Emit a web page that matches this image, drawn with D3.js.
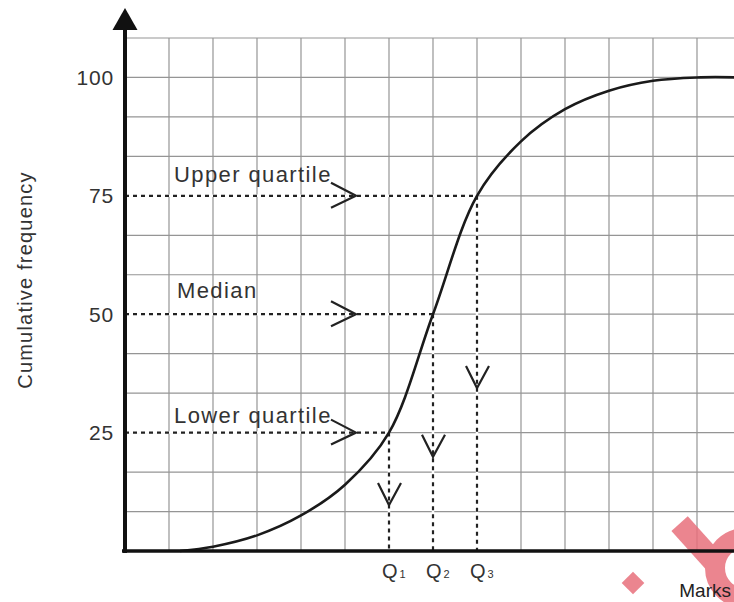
<!DOCTYPE html>
<html>
<head>
<meta charset="utf-8">
<script src="https://cdn.jsdelivr.net/npm/d3@7"></script>
<style>
  body { margin: 0; background: #fff; }
  svg { display: block; font-family: Arial, "Liberation Sans", sans-serif; }
</style>
</head>
<body>
<div id="chart"></div>
<script>
// ogive (cumulative frequency curve), x in grid squares, y in cumulative frequency
var marks = [1.25, 2, 3, 4, 5, 6, 7, 8, 9, 10, 11, 12, 13, 14];
var cumFreq = [0, 0.9, 3.3, 7.5, 14, 25, 50, 75, 86.5, 93.3, 97.2, 99.3, 100, 100];

var yTicks = [25, 50, 75, 100];

// quartiles: names, the frequency level, where they hit the curve, arrow tips
var qNames = ["Lower quartile", "Median", "Upper quartile"];
var qLevel = [25, 50, 75];
var qMark = [6, 7, 8];
var qSub = ["1", "2", "3"];
var qArrowTip = [9.7, 19.9, 34.4];   // freq where the down arrow points
var hArrowTip = 5.25;                 // mark where the right arrows point

var W = 734, H = 602;

var svg = d3.select("#chart").append("svg")
    .attr("width", W)
    .attr("height", H);

var x = d3.scaleLinear().domain([0, 14]).range([125, 741]);
var y = d3.scaleLinear().domain([0, 108.33]).range([551, 38]);

// grid
var grid = svg.append("g").attr("stroke", "#959595").attr("stroke-width", 1.2);
grid.selectAll(".vg")
    .data(d3.range(1, 15))
    .enter().append("line")
    .attr("x1", function(d) { return x(d); })
    .attr("x2", function(d) { return x(d); })
    .attr("y1", y(108.33))
    .attr("y2", y(0));
grid.selectAll(".hg")
    .data(d3.range(1, 14).map(function(j) { return j * 25 / 3; }))
    .enter().append("line")
    .attr("x1", x(0))
    .attr("x2", W)
    .attr("y1", function(d) { return y(d); })
    .attr("y2", function(d) { return y(d); });

// watermark bits (bottom right corner)
var wm = svg.append("g").attr("fill", "#e8707c").attr("opacity", 0.85);
wm.append("rect").attr("x", -8).attr("y", -8).attr("width", 16).attr("height", 16)
    .attr("transform", "translate(633,583) rotate(45)");
wm.append("rect").attr("x", -26).attr("y", -11).attr("width", 52).attr("height", 22)
    .attr("transform", "translate(697,543) rotate(48)");
wm.append("circle").attr("cx", 745).attr("cy", 568).attr("r", 30)
    .attr("fill", "none").attr("stroke", "#e8707c").attr("stroke-width", 20);

// dashed guide lines (white under them so the grid does not show through)
qLevel.forEach(function(lv, i) {
    var pts = [[x(0), y(lv), x(qMark[i]), y(lv)], [x(qMark[i]), y(lv), x(qMark[i]), y(0)]];
    pts.forEach(function(p) {
        svg.append("line")
            .attr("x1", p[0]).attr("y1", p[1]).attr("x2", p[2]).attr("y2", p[3])
            .attr("stroke", "#fff").attr("stroke-width", 2.5);
        svg.append("line")
            .attr("x1", p[0]).attr("y1", p[1]).attr("x2", p[2]).attr("y2", p[3])
            .attr("stroke", "#222").attr("stroke-width", 2.2)
            .attr("stroke-dasharray", "4,4");
    });
});

// curve
var pts = marks.map(function(m, i) { return [m, cumFreq[i]]; });
var line = d3.line()
    .x(function(d) { return x(d[0]); })
    .y(function(d) { return y(d[1]); })
    .curve(d3.curveCatmullRom.alpha(0.5));
svg.append("path")
    .datum(pts)
    .attr("d", line)
    .attr("fill", "none")
    .attr("stroke", "#1a1a1a")
    .attr("stroke-width", 2.6);

// arrow heads
var chev = svg.append("g").attr("fill", "none").attr("stroke", "#222").attr("stroke-width", 2.2);
qLevel.forEach(function(lv, i) {
    var tx = x(hArrowTip), ty = y(lv);
    chev.append("path")
        .attr("d", "M" + (tx - 25) + "," + (ty - 13) + "L" + tx + "," + ty + "L" + (tx - 25) + "," + (ty + 12));
    var vx = x(qMark[i]), vy = y(qArrowTip[i]);
    chev.append("path")
        .attr("d", "M" + (vx - 11) + "," + (vy - 22) + "L" + vx + "," + vy + "L" + (vx + 12) + "," + (vy - 22));
});

// quartile labels
var labOff = [10, 16, 14];
var labX = [174, 177, 174];
svg.selectAll(".qlab")
    .data(qNames)
    .enter().append("text")
    .attr("x", function(d, i) { return labX[i]; })
    .attr("y", function(d, i) { return y(qLevel[i]) - labOff[i]; })
    .attr("font-size", 22)
    .attr("letter-spacing", 1.4)
    .attr("fill", "#333")
    .text(function(d) { return d; });

// Q1 Q2 Q3 under the axis
var ql = svg.selectAll(".ql")
    .data(qMark)
    .enter().append("text")
    .attr("x", function(d) { return x(d) - 7; })
    .attr("y", 578)
    .attr("font-size", 20)
    .attr("fill", "#333");
ql.append("tspan").text("Q");
ql.append("tspan").attr("font-size", 11).attr("dx", 2).text(function(d, i) { return qSub[i]; });

// axes
svg.append("line")
    .attr("x1", x(0) - 3).attr("x2", W)
    .attr("y1", y(0)).attr("y2", y(0))
    .attr("stroke", "#111").attr("stroke-width", 3.5);
svg.append("line")
    .attr("x1", x(0)).attr("x2", x(0))
    .attr("y1", 26).attr("y2", y(0) + 2)
    .attr("stroke", "#111").attr("stroke-width", 4);
svg.append("path")
    .attr("d", "M125,8L137.5,30L112.5,30Z")
    .attr("fill", "#111");

// y tick labels
svg.selectAll(".yt")
    .data(yTicks)
    .enter().append("text")
    .attr("x", 114)
    .attr("y", function(d) { return y(d); })
    .attr("dy", "0.36em")
    .attr("text-anchor", "end")
    .attr("font-size", 21)
    .attr("letter-spacing", 0.8)
    .attr("fill", "#333")
    .text(function(d) { return d; });

// axis titles
svg.append("text")
    .attr("transform", "translate(32,280) rotate(-90)")
    .attr("text-anchor", "middle")
    .attr("font-size", 20)
    .attr("letter-spacing", 1.2)
    .attr("fill", "#333")
    .text("Cumulative frequency");

svg.append("text")
    .attr("x", 731)
    .attr("y", 597)
    .attr("text-anchor", "end")
    .attr("font-size", 19)
    .attr("fill", "#222")
    .text("Marks");
</script>
</body>
</html>
